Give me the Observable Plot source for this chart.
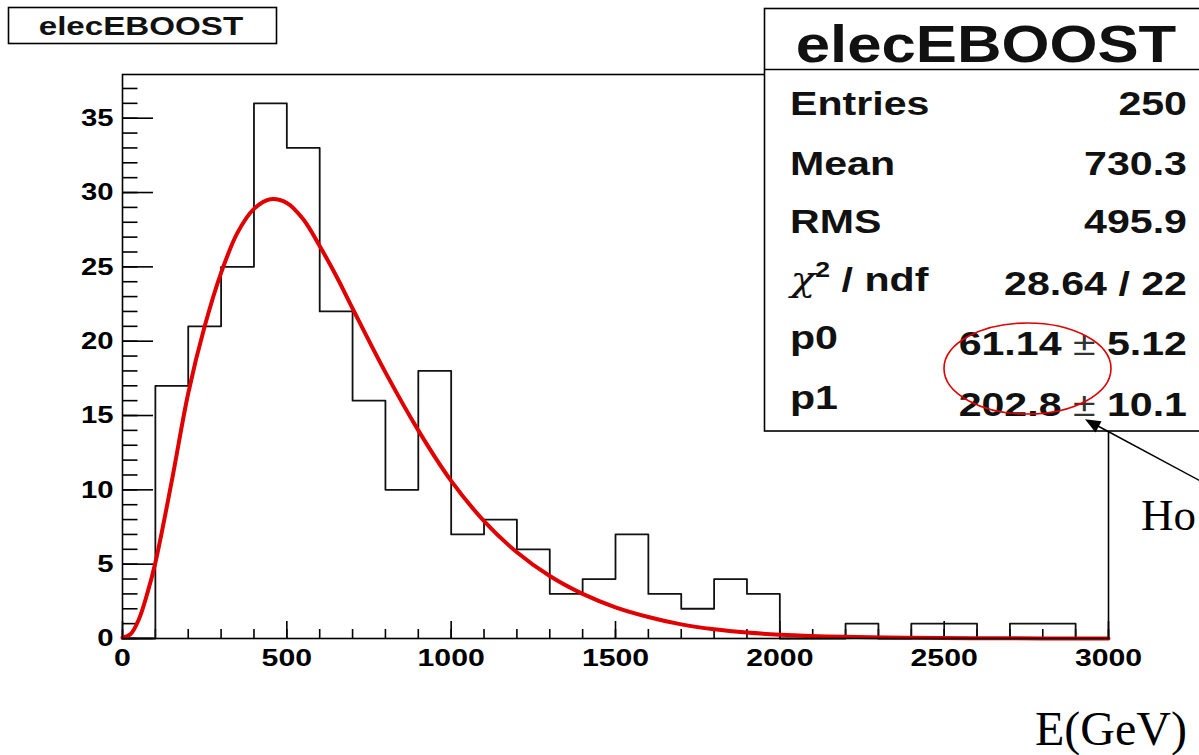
<!DOCTYPE html>
<html>
<head>
<meta charset="utf-8">
<script src="https://cdn.jsdelivr.net/npm/d3@7"></script>
<script src="https://cdn.jsdelivr.net/npm/@observablehq/plot@0.6"></script>
<style>
  html, body { margin: 0; padding: 0; background: #fff; overflow: hidden; }
</style>
</head>
<body>
<div id="chart"></div>
<script>
// Histogram of elecEBOOST: 30 bins of 100 GeV between 0 and 3000
const binLow = [0, 100, 200, 300, 400, 500, 600, 700, 800, 900,
                1000, 1100, 1200, 1300, 1400, 1500, 1600, 1700, 1800, 1900,
                2000, 2100, 2200, 2300, 2400, 2500, 2600, 2700, 2800, 2900];
const binCounts = [0, 17, 21, 25, 36, 33, 22, 16, 10, 18,
                   7, 8, 6, 3, 4, 7, 3, 2, 4, 3,
                   0, 0, 1, 0, 1, 1, 0, 1, 1, 0];
const binUpper = 3000;

// Fitted function, sampled along E
const fitE = [0, 25, 50, 75, 100, 150, 200, 250, 300, 350, 400, 450, 500, 550, 600, 650, 700,
              800, 900, 1000, 1100, 1200, 1300, 1400, 1500, 1600, 1700, 1800, 1900, 2000,
              2200, 2400, 2600, 2800, 3000];
const fitValue = [0.05, 0.3, 1.3, 3.0, 5.1, 10.6, 16.5, 21.0, 24.6, 27.3, 28.9, 29.55, 29.3, 28.2, 26.4, 24.4, 22.2,
                  17.9, 14.0, 10.6, 7.9, 5.8, 4.2, 3.0, 2.1, 1.45, 0.95, 0.62, 0.4, 0.26,
                  0.11, 0.045, 0.018, 0.007, 0.003];

// Axis ticks
const xMajorTicks = [0, 500, 1000, 1500, 2000, 2500, 3000];
const yMajorTicks = [0, 5, 10, 15, 20, 25, 30, 35];
const xMinorTicks = d3.range(0, 3001, 100);
const yMinorTicks = d3.range(0, 38, 1);
const yMax = 37.94;

// Statistics box
const statTitle = "elecEBOOST";
const statNames = ["Entries", "Mean", "RMS", "chi2", "p0", "p1"];
const statValues = ["250", "730.3", "495.9", "28.64 / 22", "61.14 \u00b1 5.12", "202.8 \u00b1 10.1"];

const W = 1199, H = 755;
const M = {top: 74, right: 91, bottom: 117, left: 122};
const plotW = W - M.left - M.right;
const plotH = H - M.top - M.bottom;

const steps = binLow.map((x, i) => ({x, y: binCounts[i]}))
  .concat([{x: binUpper, y: binCounts[binCounts.length - 1]}]);
const fit = fitE.map((x, i) => ({x, y: fitValue[i]}));

const boldFont = "'Liberation Sans', Arial, Helvetica, sans-serif";
const serifFont = "'Liberation Serif', 'Times New Roman', serif";

const chart = Plot.plot({
  width: W,
  height: H,
  marginTop: M.top,
  marginRight: M.right,
  marginBottom: M.bottom,
  marginLeft: M.left,
  x: {domain: [0, 3000], axis: null},
  y: {domain: [0, yMax], axis: null},
  style: {fontFamily: boldFont, fontWeight: "bold", background: "#fff", overflow: "hidden", color: "#000"},
  marks: [
    Plot.tickX(xMinorTicks, {x: d => d, insetTop: plotH - 9, stroke: "#000", strokeWidth: 1.6}),
    Plot.tickX(xMajorTicks, {x: d => d, insetTop: plotH - 17, stroke: "#000", strokeWidth: 1.6}),
    Plot.tickY(yMinorTicks, {y: d => d, insetRight: plotW - 15.5, stroke: "#000", strokeWidth: 1.6}),
    Plot.tickY(yMajorTicks, {y: d => d, insetRight: plotW - 31, stroke: "#000", strokeWidth: 1.6}),
    Plot.line(steps, {x: "x", y: "y", curve: "step-after", stroke: "#111", strokeWidth: 1.8}),
    Plot.line(fit, {x: "x", y: "y", curve: "catmull-rom", stroke: "#e00000", strokeWidth: 4}),
    Plot.frame({stroke: "#000", strokeWidth: 1.6}),
    Plot.axisX(xMajorTicks, {anchor: "bottom", tickSize: 0, tickPadding: 10, fontSize: 24, fontWeight: "bold",
                             tickFormat: d => String(d), label: null}),
    Plot.axisY(yMajorTicks, {anchor: "left", tickSize: 0, tickPadding: 9, fontSize: 24, fontWeight: "bold",
                             tickFormat: d => String(d), label: null})
  ]
});

document.getElementById("chart").appendChild(chart);

// widen glyphs horizontally around the text anchor
function stretchText(node, sx, anchor) {
  const b = node.getBBox();
  const ax = anchor === "end" ? b.x + b.width : anchor === "middle" ? b.x + b.width / 2 : b.x;
  const t = node.getAttribute("transform") || "";
  node.setAttribute("transform", `${t} translate(${ax},0) scale(${sx},1) translate(${-ax},0)`);
}

const svg = d3.select(chart);
svg.selectAll('g[aria-label="x-axis tick label"] text').each(function() { stretchText(this, 1.26, "middle"); });
svg.selectAll('g[aria-label="y-axis tick label"] text').each(function() { stretchText(this, 1.22, "end"); });

// title box
const title = svg.append("g").attr("font-family", boldFont).attr("font-weight", "bold");
title.append("rect").attr("x", 8.5).attr("y", 7.5).attr("width", 268).attr("height", 36)
  .attr("fill", "#fff").attr("stroke", "#000").attr("stroke-width", 1.6);
const titleText = title.append("text").attr("x", 141).attr("y", 35).attr("text-anchor", "middle")
  .attr("font-size", 25.5).attr("fill", "#111").text(statTitle);
stretchText(titleText.node(), 1.3, "middle");

// statistics box
const stats = svg.append("g").attr("font-family", boldFont).attr("font-weight", "bold").attr("fill", "#111");
stats.append("rect").attr("x", 764.5).attr("y", 8.5).attr("width", 500).attr("height", 422.5)
  .attr("fill", "#fff").attr("stroke", "#000").attr("stroke-width", 1.6);
stats.append("line").attr("x1", 764.5).attr("x2", 1264).attr("y1", 69.5).attr("y2", 69.5)
  .attr("stroke", "#000").attr("stroke-width", 1.6);
const head = stats.append("text").attr("x", 986).attr("y", 62).attr("text-anchor", "middle")
  .attr("font-size", 51).text(statTitle);
stretchText(head.node(), 1.21, "middle");

const nameBase = [115, 175, 233, 291, 349, 409];
const valueBase = [115, 175, 233, 295, 355, 416];
statNames.forEach((name, i) => {
  const t = stats.append("text").attr("x", 790).attr("y", nameBase[i])
    .attr("text-anchor", "start").attr("font-size", 34);
  if (name === "chi2") {
    t.append("tspan").attr("font-family", "'DejaVu Serif', 'Liberation Serif', serif")
      .attr("font-weight", "normal").attr("font-style", "italic").attr("font-size", 34).text("\u03c7");
    t.append("tspan").attr("dy", -14).attr("font-size", 22).text("2");
    t.append("tspan").attr("dy", 14).text(" / ndf");
  } else {
    t.text(name);
  }
  stretchText(t.node(), 1.21, "start");

  const v = stats.append("text").attr("x", 1187).attr("y", valueBase[i]).attr("text-anchor", "end").attr("font-size", 34);
  statValues[i].split(/(\u00b1)/).forEach(part => {
    const s = v.append("tspan").text(part);
    if (part === "\u00b1") s.attr("font-weight", "normal").attr("fill", "#333");
  });
  stretchText(v.node(), 1.21, "end");
});

// annotation: ellipse around fit parameters and pointer arrow
const notes = svg.append("g").attr("font-weight", "normal");
notes.append("ellipse").attr("cx", 1027.5).attr("cy", 368.5).attr("rx", 83.5).attr("ry", 45.5)
  .attr("fill", "none").attr("stroke", "#e00000").attr("stroke-width", 1.6);
notes.append("line").attr("x1", 1260).attr("y1", 513).attr("x2", 1097).attr("y2", 425.5)
  .attr("stroke", "#000").attr("stroke-width", 1.5);
notes.append("path").attr("d", "M1085,419.3 L1101.5,421.3 L1095.5,432.5 Z").attr("fill", "#000");
notes.append("text").attr("x", 1141).attr("y", 530).attr("text-anchor", "start").attr("font-family", serifFont)
  .attr("font-size", 45).attr("fill", "#000").text("Ho");
notes.append("text").attr("x", 1035).attr("y", 745).attr("text-anchor", "start").attr("font-family", serifFont)
  .attr("font-size", 48).attr("fill", "#000").text("E(GeV)");
</script>
</body>
</html>
